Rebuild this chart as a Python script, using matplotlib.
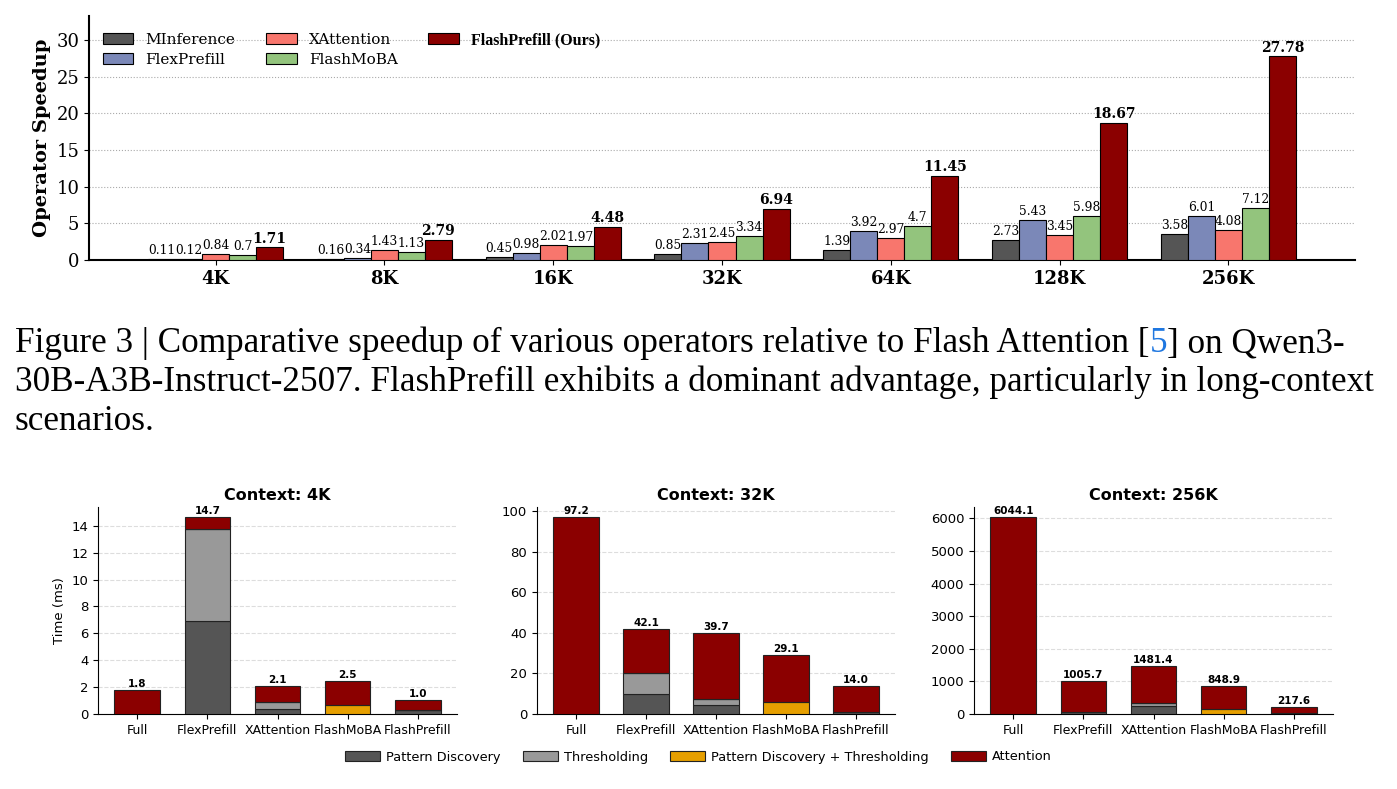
import matplotlib
matplotlib.use('Agg')
import matplotlib.pyplot as plt
from matplotlib.ticker import MultipleLocator
import numpy as np

# speedup data (top chart)
contexts = ['4K', '8K', '16K', '32K', '64K', '128K', '256K']
methods = ['MInference', 'FlexPrefill', 'XAttention', 'FlashMoBA', 'FlashPrefill (Ours)']
minference = [0.11, 0.16, 0.45, 0.85, 1.39, 2.73, 3.58]
flexprefill = [0.12, 0.34, 0.98, 2.31, 3.92, 5.43, 6.01]
xattention = [0.84, 1.43, 2.02, 2.45, 2.97, 3.45, 4.08]
flashmoba = [0.7, 1.13, 1.97, 3.34, 4.7, 5.98, 7.12]
flashprefill = [1.71, 2.79, 4.48, 6.94, 11.45, 18.67, 27.78]
speed_colors = ['#555555', '#7b88b8', '#f8766d', '#93c47d', '#8b0000']

# time breakdown data (bottom charts)
ops = ['Full', 'FlexPrefill', 'XAttention', 'FlashMoBA', 'FlashPrefill']
parts = ['Pattern Discovery', 'Thresholding', 'Pattern Discovery + Thresholding', 'Attention']
part_colors = ['#555555', '#999999', '#e69f00', '#8b0000']
titles = ['Context: 4K', 'Context: 32K', 'Context: 256K']
pd_4k = [0, 6.95, 0.37, 0, 0.28]
th_4k = [0, 6.8, 0.5, 0, 0]
pdt_4k = [0, 0, 0, 0.65, 0]
att_4k = [1.76, 0.92, 1.19, 1.83, 0.74]
pd_32k = [0, 10.0, 4.5, 0, 1.0]
th_32k = [0, 10.0, 2.8, 0, 0]
pdt_32k = [0, 0, 0, 6.1, 0]
att_32k = [97.2, 22.1, 32.4, 23.0, 13.0]
pd_256k = [0, 60, 255, 0, 40]
th_256k = [0, 0, 75, 0, 0]
pdt_256k = [0, 0, 0, 160, 0]
att_256k = [6044.1, 945.7, 1151.4, 688.9, 177.6]

W, H = 1397, 789
fig = plt.figure(figsize=(W / 100, H / 100), dpi=100)


def px_axes(l, r, t, b):
    return fig.add_axes([l / W, 1 - b / H, (r - l) / W, (b - t) / H])


# ---------------- top chart ----------------
ax = px_axes(89, 1355, 16, 260)
x = np.arange(len(contexts))
w = 0.16
series = [minference, flexprefill, xattention, flashmoba, flashprefill]
for i, vals in enumerate(series):
    pos = x + (i - 2) * w
    bars = ax.bar(pos, vals, w, color=speed_colors[i], edgecolor='black', linewidth=0.8,
                  label=methods[i], zorder=3)
    for b, v in zip(bars, vals):
        ax.text(b.get_x() + b.get_width() / 2, v + 0.25, str(v), ha='center', va='bottom',
                fontsize=8.8 if i < 4 else 10, family='DejaVu Serif',
                fontweight='bold' if i == 4 else 'normal')
ax.set_xlim(-0.75, 6.75)
ax.set_ylim(0, 33.3)
ax.set_xticks(x)
ax.set_xticklabels(contexts, fontsize=13, fontweight='bold', family='DejaVu Serif')
ax.set_yticks([0, 5, 10, 15, 20, 25, 30])
ax.tick_params(axis='y', labelsize=13)
for lab in ax.get_yticklabels():
    lab.set_family('DejaVu Serif')
ax.set_ylabel('Operator Speedup', fontsize=14, fontweight='bold', family='DejaVu Serif')
ax.grid(axis='y', linestyle=':', color='#aaaaaa', linewidth=0.8, zorder=0)
ax.spines['top'].set_visible(False)
ax.spines['right'].set_visible(False)
ax.spines['left'].set_linewidth(1.5)
ax.spines['bottom'].set_linewidth(1.5)
leg = ax.legend(ncol=3, loc='upper left', frameon=False, prop={'family': 'DejaVu Serif', 'size': 11},
                bbox_to_anchor=(0.0, 0.99), columnspacing=2.0, handlelength=2.0,
                labelspacing=0.35)
last = leg.get_texts()[-1]
last.set_fontweight('bold')
last.set_family('Liberation Serif')
last.set_fontsize(11.5)

# ---------------- caption ----------------
fig.canvas.draw()
renderer = fig.canvas.get_renderer()
cap_family = 'Liberation Serif'
line1 = ['Figure 3 | Comparative speedup of various operators relative to Flash Attention [', '5',
         '] on Qwen3-']
line2 = '30B-A3B-Instruct-2507. FlashPrefill exhibits a dominant advantage, particularly in long-context'
line3 = 'scenarios.'

# pick a font size so the caption lines fill the page width
scales = []
for txt, target in [(''.join(line1), 1383 - 15), (line2, 1375 - 15)]:
    probe = fig.text(0, 0, txt, fontsize=20, family=cap_family)
    scales.append(target / probe.get_window_extent(renderer).width)
    probe.remove()
cap_size = 20 * min(scales)

xpos = 15
for seg, col in zip(line1, ['black', '#1f77e0', 'black']):
    t = fig.text(xpos / W, 1 - 352 / H, seg, fontsize=cap_size, family=cap_family, color=col,
                 va='baseline')
    xpos += t.get_window_extent(renderer).width
fig.text(15 / W, 1 - 391 / H, line2, fontsize=cap_size, family=cap_family, va='baseline')
fig.text(15 / W, 1 - 430 / H, line3, fontsize=cap_size, family=cap_family, va='baseline')

# ---------------- bottom charts ----------------
data = [(pd_4k, th_4k, pdt_4k, att_4k),
        (pd_32k, th_32k, pdt_32k, att_32k),
        (pd_256k, th_256k, pdt_256k, att_256k)]
lefts = [(98, 457), (537, 895), (974, 1333)]
xb = np.arange(len(ops))
for k, (l, r) in enumerate(lefts):
    a = px_axes(l, r, 507, 714)
    bottom = np.zeros(len(ops))
    for j, vals in enumerate(data[k]):
        vals = np.array(vals, dtype=float)
        a.bar(xb, vals, 0.65, bottom=bottom, color=part_colors[j], edgecolor='#222222',
              linewidth=0.8, label=parts[j], zorder=3)
        bottom += vals
    ymax = bottom.max() * 1.05
    for xi, tot in zip(xb, bottom):
        a.text(xi, tot + ymax * 0.005, f'{tot:.1f}', ha='center', va='bottom', fontsize=7.5,
               fontweight='bold')
    a.set_ylim(0, ymax)
    if k == 0:
        a.yaxis.set_major_locator(MultipleLocator(2))
    a.set_xticks(xb)
    a.set_xticklabels(ops, fontsize=9)
    a.tick_params(axis='y', labelsize=9.5)
    a.set_title(titles[k], fontsize=11.5, fontweight='bold', pad=5)
    a.grid(axis='y', linestyle='--', color='#dddddd', linewidth=0.8, zorder=0)
    a.spines['top'].set_visible(False)
    a.spines['right'].set_visible(False)
    if k == 0:
        a.set_ylabel('Time (ms)', fontsize=9.5)
        handles, labels = a.get_legend_handles_labels()

fig.legend(handles, labels, ncol=4, loc='center', bbox_to_anchor=(0.5, 1 - 757 / H), frameon=False,
           fontsize=9.3, handlelength=2.7, handletextpad=0.5, columnspacing=1.7)

fig.savefig('out.png', dpi=100)
